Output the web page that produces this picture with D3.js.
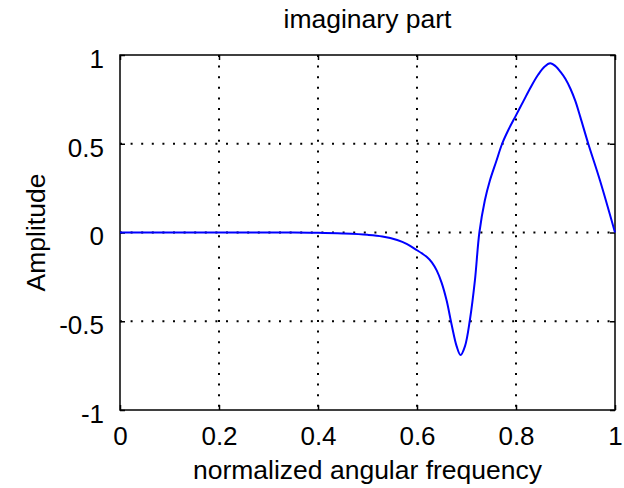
<!DOCTYPE html>
<html>
<head>
<meta charset="utf-8">
<style>
  body { margin: 0; background: #fff; }
  svg text { font-family: "Liberation Sans", Arial, sans-serif; fill: #000; }
</style>
</head>
<body>
<script src="https://cdn.jsdelivr.net/npm/d3@7"></script>
<script>

// normalized angular frequency
var freq = [0, 0.1, 0.2, 0.3, 0.35, 0.4, 0.45, 0.5, 0.53, 0.56, 0.58, 0.6, 0.61, 0.62, 0.63,
  0.64, 0.65, 0.66, 0.67, 0.68, 0.688, 0.697, 0.707, 0.717, 0.726, 0.737, 0.747, 0.76, 0.772,
  0.785, 0.8, 0.815, 0.83, 0.845, 0.858, 0.869, 0.88, 0.89, 0.9, 0.91, 0.92, 0.93, 0.946,
  0.97, 1];
// imaginary part amplitude
var amp = [0, 0, 0, 0, 0, -0.002, -0.006, -0.013, -0.022, -0.042, -0.065, -0.1, -0.118, -0.138, -0.168,
  -0.215, -0.285, -0.385, -0.52, -0.64, -0.69, -0.64, -0.49, -0.27, 0, 0.18, 0.29, 0.4, 0.5,
  0.58, 0.66, 0.74, 0.82, 0.89, 0.935, 0.953, 0.937, 0.905, 0.865, 0.81, 0.74, 0.65, 0.5,
  0.29, 0];

var xTicks = [0, 0.2, 0.4, 0.6, 0.8, 1];
var yTicks = [-1, -0.5, 0, 0.5, 1];
var xTickLabels = ["0", "0.2", "0.4", "0.6", "0.8", "1"];
var yTickLabels = ["-1", "-0.5", "0", "0.5", "1"];

var W = 624, H = 488;
var margin = {top: 55, right: 9, bottom: 78, left: 120};
var width = W - margin.left - margin.right,
    height = H - margin.top - margin.bottom;

var x = d3.scaleLinear().domain([0, 1]).range([0, width]);
var y = d3.scaleLinear().domain([-1, 1]).range([height, 0]);

var svg = d3.select("body").append("svg")
  .attr("width", W)
  .attr("height", H);

var g = svg.append("g")
  .attr("transform", "translate(" + margin.left + "," + margin.top + ")");

// grid
g.selectAll(".vgrid")
  .data(xTicks.slice(1, -1))
  .enter().append("line")
  .attr("x1", function(d) { return x(d); })
  .attr("x2", function(d) { return x(d); })
  .attr("y1", 0).attr("y2", height)
  .attr("stroke", "#000").attr("stroke-width", 2)
  .attr("stroke-dasharray", "2,8.6");

g.selectAll(".hgrid")
  .data(yTicks.slice(1, -1))
  .enter().append("line")
  .attr("y1", function(d) { return y(d); })
  .attr("y2", function(d) { return y(d); })
  .attr("x1", 0).attr("x2", width)
  .attr("stroke", "#000").attr("stroke-width", 2)
  .attr("stroke-dasharray", "2,8.6");

// axes with inward ticks
var fmtX = function(d, i) { return xTickLabels[i]; };
var fmtY = function(d, i) { return yTickLabels[i]; };

var xAxis = g.append("g")
  .attr("transform", "translate(0," + height + ")")
  .call(d3.axisBottom(x).tickValues(xTicks).tickFormat(fmtX).tickSizeInner(-5).tickSizeOuter(0).tickPadding(14));
g.append("g")
  .call(d3.axisTop(x).tickValues(xTicks).tickFormat("").tickSizeInner(-5).tickSizeOuter(0));
var yAxis = g.append("g")
  .call(d3.axisLeft(y).tickValues(yTicks).tickFormat(fmtY).tickSizeInner(-5).tickSizeOuter(0).tickPadding(16));
g.append("g")
  .attr("transform", "translate(" + width + ",0)")
  .call(d3.axisRight(y).tickValues(yTicks).tickFormat("").tickSizeInner(-5).tickSizeOuter(0));

g.selectAll(".domain").remove();
g.selectAll(".tick line").attr("stroke", "#000").attr("stroke-width", 1.5);
g.selectAll(".tick text")
  .style("font-size", "26px")
  .style("font-family", "'Liberation Sans', Arial, sans-serif")
  .attr("fill", "#000");
yAxis.selectAll(".tick text").attr("dy", "0.48em");
xAxis.selectAll(".tick text").attr("dy", "0.82em");

// frame
g.append("rect")
  .attr("width", width).attr("height", height)
  .attr("fill", "none").attr("stroke", "#000").attr("stroke-width", 1.5);

// curve
var pts = freq.map(function(f, i) { return [f, amp[i]]; });
var line = d3.line()
  .x(function(d) { return x(d[0]); })
  .y(function(d) { return y(d[1]); })
  .curve(d3.curveCatmullRom.alpha(0.5));

g.append("path")
  .datum(pts)
  .attr("d", line)
  .attr("fill", "none")
  .attr("stroke", "#0000ff")
  .attr("stroke-width", 2);

// labels
svg.append("text")
  .attr("x", margin.left + width / 2)
  .attr("y", 28)
  .style("text-anchor", "middle")
  .style("font-size", "26.5px")
  .text("imaginary part");

svg.append("text")
  .attr("x", margin.left + width / 2)
  .attr("y", 479)
  .style("text-anchor", "middle")
  .style("font-size", "26.5px")
  .text("normalized angular frequency");

svg.append("text")
  .attr("transform", "translate(45," + (margin.top + height / 2) + ") rotate(-90)")
  .style("text-anchor", "middle")
  .style("font-size", "26.5px")
  .text("Amplitude");

</script>
</body>
</html>
